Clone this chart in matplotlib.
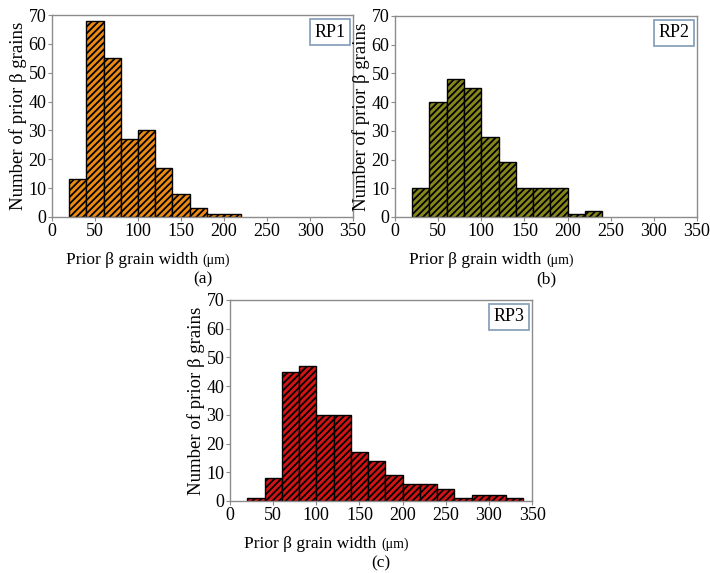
"""
Prior beta grain width histograms for RP1, RP2, RP3
"""

import numpy as np
import matplotlib
matplotlib.use("Agg")
import matplotlib.pyplot as plt

plt.rcParams["font.family"] = ["Liberation Serif", "DejaVu Serif"]
plt.rcParams["hatch.linewidth"] = 1.3

BIN_WIDTH = 20
RP1_EDGES = [20, 40, 60, 80, 100, 120, 140, 160, 180, 200]
RP1_COUNTS = [13, 68, 55, 27, 30, 17, 8, 3, 1, 1]

RP2_EDGES = [20, 40, 60, 80, 100, 120, 140, 160, 180, 200, 220]
RP2_COUNTS = [10, 40, 48, 45, 28, 19, 10, 10, 10, 1, 2]

RP3_EDGES = [20, 40, 60, 80, 100, 120, 140, 160, 180, 200, 220, 240,
             260, 280, 300, 320]
RP3_COUNTS = [1, 8, 45, 47, 30, 30, 17, 14, 9, 6, 6, 4, 1, 2, 2, 1]

X_TICKS = [0, 50, 100, 150, 200, 250, 300, 350]
Y_TICKS = [0, 10, 20, 30, 40, 50, 60, 70]

SPINE = "#8c8c8c"


def panel(fig, rect, edges, counts, color, tag, letter):
    ax = fig.add_axes(rect)
    ax.bar(edges, counts, width=BIN_WIDTH, align="edge", color=color,
           edgecolor="black", linewidth=1.0, hatch="/////")
    ax.set_xlim(0, 350)
    ax.set_ylim(0, 70)
    ax.set_xticks(X_TICKS)
    ax.set_yticks(Y_TICKS)
    for s in ax.spines.values():
        s.set_color(SPINE)
        s.set_linewidth(1.0)
    ax.tick_params(axis="both", labelsize=13, color=SPINE, length=3,
                   width=0.8, pad=1)
    ax.set_ylabel("Number of prior β grains", fontsize=13.5, labelpad=1)
    ax.text(0.5, -0.175, "Prior β grain width ", transform=ax.transAxes,
            ha="right", va="top", fontsize=12.5)
    ax.text(0.5, -0.183, "(μm)", transform=ax.transAxes,
            ha="left", va="top", fontsize=10)
    ax.text(0.5, -0.27, letter, transform=ax.transAxes,
            ha="center", va="top", fontsize=12.5)
    ax.text(0.975, 0.915, tag, transform=ax.transAxes, ha="right",
            va="center", fontsize=13,
            bbox=dict(boxstyle="square,pad=0.25", facecolor="white",
                      edgecolor="#8aa2bd", linewidth=1.3))
    return ax


def main():
    fig = plt.figure(figsize=(7.10, 5.73), dpi=100)
    panel(fig, [0.0732, 0.6213, 0.424, 0.3525], RP1_EDGES, RP1_COUNTS,
          "#ec8a12", "RP1", "(a)")
    panel(fig, [0.5563, 0.6213, 0.4254, 0.351], RP2_EDGES, RP2_COUNTS,
          "#86861a", "RP2", "(b)")
    panel(fig, [0.324, 0.1257, 0.4254, 0.351], RP3_EDGES, RP3_COUNTS,
          "#d41414", "RP3", "(c)")
    fig.savefig("out.png", dpi=100)
    plt.close(fig)


if __name__ == "__main__":
    main()
